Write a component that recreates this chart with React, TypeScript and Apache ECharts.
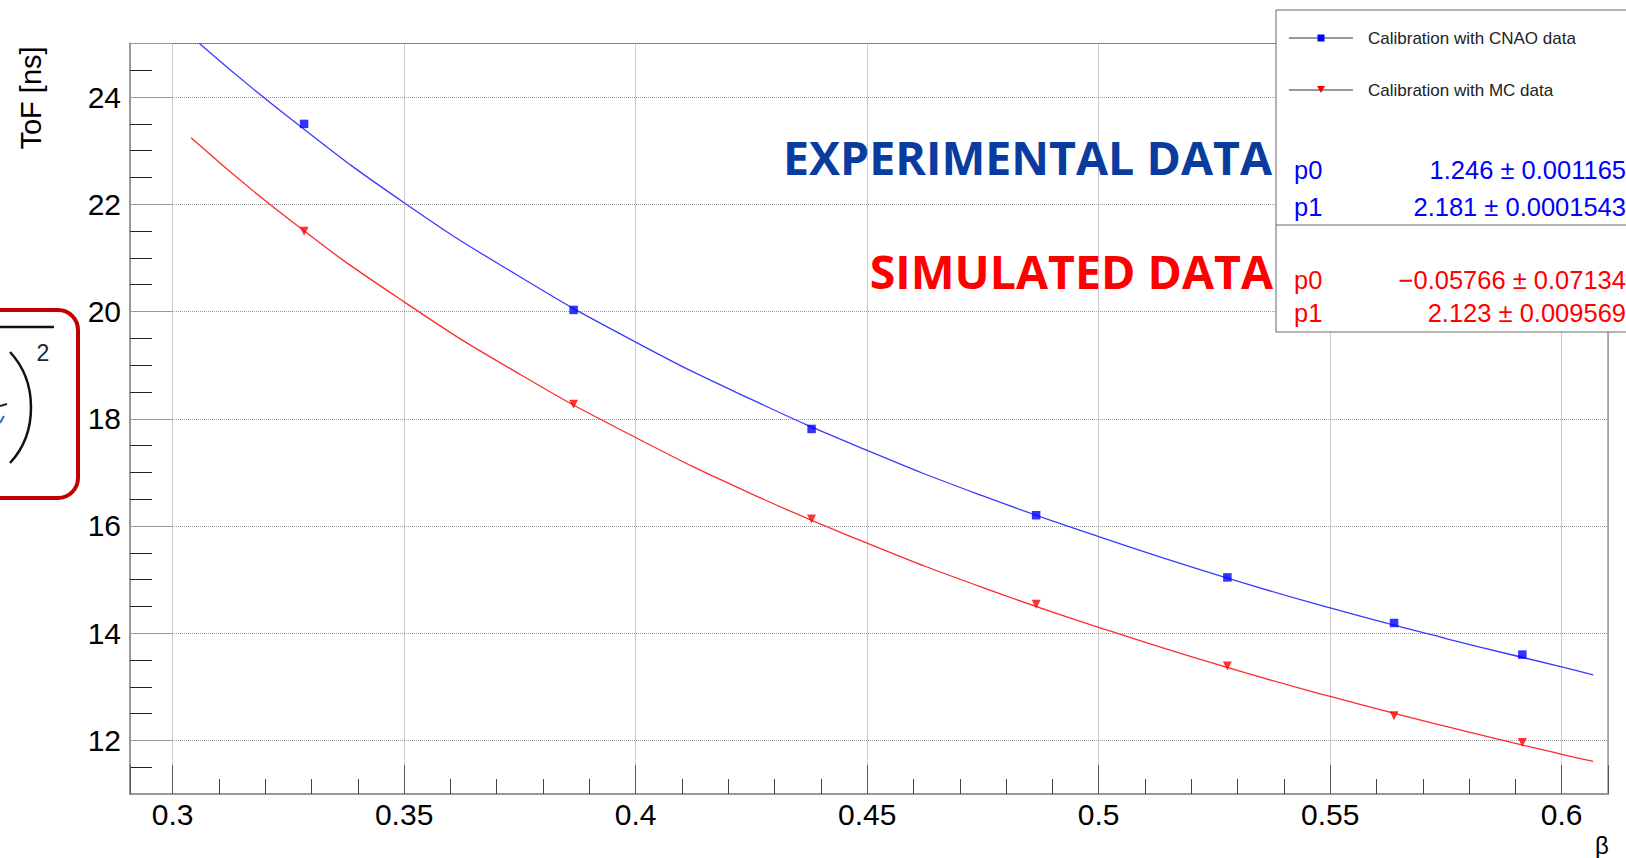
import React, { useEffect, useRef } from "react";
import * as echarts from "echarts";

// Measured points (β, ToF [ns])
const betaPoints = [0.3284, 0.3866, 0.438, 0.4865, 0.5278, 0.5638, 0.5915];
const tofCNAO = [23.5, 20.03, 17.81, 16.2, 15.04, 14.19, 13.6];
const tofMC = [21.5, 18.27, 16.13, 14.54, 13.39, 12.46, 11.96];

// Fit curves
const betaFitCNAO = [0.3058, 0.325, 0.35, 0.375, 0.4, 0.425, 0.45, 0.475, 0.5, 0.525, 0.55, 0.575, 0.6, 0.6068];
const tofFitCNAO = [25.0, 23.63, 22.03, 20.65, 19.43, 18.36, 17.41, 16.56, 15.8, 15.1, 14.47, 13.9, 13.37, 13.22];
const betaFitMC = [0.304, 0.325, 0.35, 0.375, 0.4, 0.425, 0.45, 0.475, 0.5, 0.525, 0.55, 0.575, 0.6, 0.6068];
const tofFitMC = [23.24, 21.73, 20.18, 18.83, 17.65, 16.6, 15.68, 14.85, 14.11, 13.43, 12.82, 12.26, 11.74, 11.61];

const legendLabels = ["Calibration with CNAO data", "Calibration with MC data"];
const statsCNAO = [["p0", "1.246 \u00b1 0.001165"], ["p1", "2.181 \u00b1 0.0001543"]];
const statsMC = [["p0", "\u22120.05766 \u00b1 0.07134"], ["p1", "2.123 \u00b1 0.009569"]];

const zip = (xs: number[], ys: number[]) => xs.map((x, i) => [x, ys[i]]);

const SANS = "'Liberation Sans', Arial, sans-serif";

function txt(x: number, y: number, text: string, size: number, color: string, align = "left", extra: any = {}) {
  return {
    type: "text",
    x,
    y,
    z: 110,
    ...extra,
    style: {
      text,
      fill: color,
      fontSize: size,
      fontFamily: extra.fontFamily || SANS,
      fontWeight: extra.fontWeight || "normal",
      align,
      textAlign: align,
      verticalAlign: "middle",
      textVerticalAlign: "middle",
    },
  };
}

export default function App() {
  const ref = useRef<HTMLDivElement>(null);
  useEffect(() => {
    if (!ref.current) return;
    const chart = echarts.init(ref.current, null, { renderer: "svg" });
    const graphic: any[] = [
      // axis title
      txt(31, 98, "ToF [ns]", 29, "#000", "center", { rotation: Math.PI / 2 }),
      txt(1602, 845, "\u03b2", 24, "#000", "center"),
      // formula box (partially visible)
      {
        type: "rect",
        z: 100,
        shape: { x: -30, y: 310, width: 108, height: 188, r: 20 },
        style: { fill: "none", stroke: "#c00000", lineWidth: 4 },
      },
      { type: "line", z: 100, shape: { x1: 0, y1: 327, x2: 54, y2: 327 }, style: { stroke: "#111", lineWidth: 2.5 } },
      txt(43, 353, "2", 23, "#1a2440", "center"),
      {
        type: "bezierCurve",
        z: 100,
        shape: { x1: 10, y1: 352, cpx1: 38, cpy1: 382, cpx2: 38, cpy2: 433, x2: 10, y2: 463 },
        style: { stroke: "#111", lineWidth: 2.5, fill: "none" },
      },
      { type: "line", z: 100, shape: { x1: 0, y1: 406, x2: 7, y2: 404 }, style: { stroke: "#222", lineWidth: 2 } },
      { type: "line", z: 100, shape: { x1: 0, y1: 423, x2: 4, y2: 416 }, style: { stroke: "#2a6fd0", lineWidth: 2 } },
      // annotations
      txt(1272, 157, "EXPERIMENTAL DATA", 46.5, "#0a3c9f", "right", { fontFamily: "'Open Sans', sans-serif", fontWeight: "bold" }),
      txt(1273, 271, "SIMULATED DATA", 46.5, "#ff0000", "right", { fontFamily: "'Open Sans', sans-serif", fontWeight: "bold" }),
      // legend / stats box
      {
        type: "rect",
        z: 100,
        shape: { x: 1276, y: 10, width: 400, height: 322 },
        style: { fill: "#fff", stroke: "#666", lineWidth: 1 },
      },
      { type: "line", z: 101, shape: { x1: 1276, y1: 225, x2: 1626, y2: 225 }, style: { stroke: "#666", lineWidth: 1 } },
      { type: "line", z: 101, shape: { x1: 1289, y1: 38, x2: 1353, y2: 38 }, style: { stroke: "#333", lineWidth: 1 } },
      { type: "rect", z: 102, shape: { x: 1317.5, y: 34.5, width: 7, height: 7 }, style: { fill: "#0000ff" } },
      { type: "line", z: 101, shape: { x1: 1289, y1: 90, x2: 1353, y2: 90 }, style: { stroke: "#333", lineWidth: 1 } },
      {
        type: "polygon",
        z: 102,
        shape: { points: [[1317, 86], [1325, 86], [1321, 93]] },
        style: { fill: "#ff0000" },
      },
      txt(1368, 38, legendLabels[0], 17, "#222"),
      txt(1368, 90, legendLabels[1], 17, "#222"),
      txt(1294, 170, statsCNAO[0][0], 25.5, "#0000ff"),
      txt(1626, 170, statsCNAO[0][1], 25.5, "#0000ff", "right"),
      txt(1294, 207, statsCNAO[1][0], 25.5, "#0000ff"),
      txt(1626, 207, statsCNAO[1][1], 25.5, "#0000ff", "right"),
      txt(1294, 280, statsMC[0][0], 25.5, "#ff0000"),
      txt(1626, 280, statsMC[0][1], 25.5, "#ff0000", "right"),
      txt(1294, 313, statsMC[1][0], 25.5, "#ff0000"),
      txt(1626, 313, statsMC[1][1], 25.5, "#ff0000", "right"),
    ];

    const option: any = {
      animation: false,
      backgroundColor: "#fff",
      grid: {
        left: 130,
        right: 18,
        top: 43.5,
        bottom: 64,
        show: true,
        borderColor: "#666",
        borderWidth: 1,
        backgroundColor: "transparent",
      },
      xAxis: {
        type: "value",
        min: 0.2908,
        max: 0.61,
        splitNumber: 6,
        axisLine: { show: true, onZero: false, lineStyle: { color: "#999", width: 2 } },
        axisTick: { show: true, inside: true, length: 29, lineStyle: { color: "#555", width: 1 } },
        minorTick: { show: true, splitNumber: 5, length: 15, lineStyle: { color: "#444", width: 1 } },
        splitLine: { show: true, lineStyle: { color: "#999", type: "dotted", width: 1 } },
        axisLabel: {
          show: true,
          showMinLabel: false,
          showMaxLabel: false,
          margin: 5,
          fontSize: 30,
          fontFamily: SANS,
          color: "#000",
        },
      },
      yAxis: {
        type: "value",
        min: 11,
        max: 25,
        splitNumber: 7,
        axisLine: { show: true, onZero: false, lineStyle: { color: "#999", width: 2 } },
        axisTick: { show: true, inside: true, length: 42, lineStyle: { color: "#999", width: 1 } },
        minorTick: { show: true, splitNumber: 4, length: 22, lineStyle: { color: "#222", width: 1 } },
        splitLine: { show: true, lineStyle: { color: "#999", type: "dotted", width: 1 } },
        axisLabel: {
          show: true,
          showMinLabel: false,
          showMaxLabel: false,
          margin: 9,
          fontSize: 30,
          fontFamily: SANS,
          color: "#000",
        },
      },
      series: [
        {
          type: "line",
          data: zip(betaFitCNAO, tofFitCNAO),
          smooth: true,
          showSymbol: false,
          lineStyle: { color: "#3a3aff", width: 1.3 },
          z: 3,
        },
        {
          type: "line",
          data: zip(betaFitMC, tofFitMC),
          smooth: true,
          showSymbol: false,
          lineStyle: { color: "#ff2a2a", width: 1.3 },
          z: 3,
        },
        {
          type: "scatter",
          data: zip(betaPoints, tofCNAO),
          symbol: "rect",
          symbolSize: 8.5,
          itemStyle: { color: "#0000ff" },
          z: 4,
        },
        {
          type: "scatter",
          data: zip(betaPoints, tofMC),
          symbol: "triangle",
          symbolRotate: 180,
          symbolSize: 9,
          itemStyle: { color: "#ff0000" },
          z: 4,
        },
      ],
      graphic,
    };
    chart.setOption(option);
    return () => chart.dispose();
  }, []);
  return <div ref={ref} style={{ position: "absolute", left: 0, top: 0, width: 1626, height: 858 }} />;
}
